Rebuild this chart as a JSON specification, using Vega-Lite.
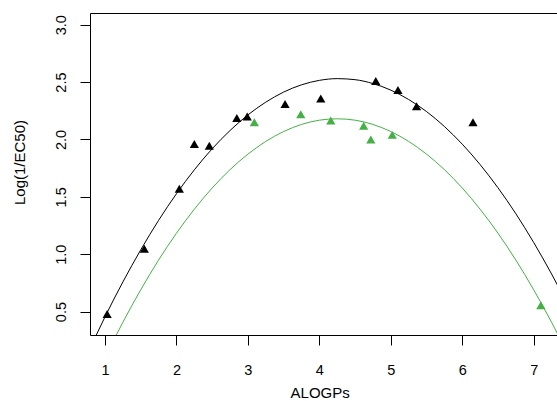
{
  "$schema": "https://vega.github.io/schema/vega-lite/v6.json",
  "width": 467,
  "height": 322,
  "autosize": {"type": "none"},
  "padding": {"left": 90, "top": 13, "right": 0, "bottom": 66},
  "config": {
    "view": {"stroke": null},
    "font": "Liberation Sans",
    "axis": {
      "grid": false,
      "domainColor": "#000000",
      "tickColor": "#000000",
      "labelColor": "#000000",
      "titleColor": "#000000",
      "labelFontSize": 14.5,
      "titleFontSize": 15,
      "titleFontWeight": "normal",
      "labelFlush": false,
      "labelOverlap": false,
      "tickSize": 10,
      "domainWidth": 1,
      "tickWidth": 1
    }
  },
  "datasets": {
    "curves": [
      {"x": 0.75, "y": 0.125, "s": "black"},
      {"x": 1.0, "y": 0.454, "s": "black"},
      {"x": 1.25, "y": 0.758, "s": "black"},
      {"x": 1.5, "y": 1.038, "s": "black"},
      {"x": 1.75, "y": 1.295, "s": "black"},
      {"x": 2.0, "y": 1.527, "s": "black"},
      {"x": 2.25, "y": 1.735, "s": "black"},
      {"x": 2.5, "y": 1.919, "s": "black"},
      {"x": 2.75, "y": 2.078, "s": "black"},
      {"x": 3.0, "y": 2.214, "s": "black"},
      {"x": 3.25, "y": 2.325, "s": "black"},
      {"x": 3.5, "y": 2.413, "s": "black"},
      {"x": 3.75, "y": 2.476, "s": "black"},
      {"x": 4.0, "y": 2.515, "s": "black"},
      {"x": 4.25, "y": 2.53, "s": "black"},
      {"x": 4.5, "y": 2.521, "s": "black"},
      {"x": 4.75, "y": 2.487, "s": "black"},
      {"x": 5.0, "y": 2.43, "s": "black"},
      {"x": 5.25, "y": 2.348, "s": "black"},
      {"x": 5.5, "y": 2.243, "s": "black"},
      {"x": 5.75, "y": 2.113, "s": "black"},
      {"x": 6.0, "y": 1.959, "s": "black"},
      {"x": 6.25, "y": 1.781, "s": "black"},
      {"x": 6.5, "y": 1.579, "s": "black"},
      {"x": 6.75, "y": 1.353, "s": "black"},
      {"x": 7.0, "y": 1.102, "s": "black"},
      {"x": 7.25, "y": 0.828, "s": "black"},
      {"x": 7.5, "y": 0.529, "s": "black"},
      {"x": 1.0, "y": 0.099, "s": "green"},
      {"x": 1.25, "y": 0.407, "s": "green"},
      {"x": 1.5, "y": 0.69, "s": "green"},
      {"x": 1.75, "y": 0.949, "s": "green"},
      {"x": 2.0, "y": 1.183, "s": "green"},
      {"x": 2.25, "y": 1.392, "s": "green"},
      {"x": 2.5, "y": 1.577, "s": "green"},
      {"x": 2.75, "y": 1.737, "s": "green"},
      {"x": 3.0, "y": 1.872, "s": "green"},
      {"x": 3.25, "y": 1.983, "s": "green"},
      {"x": 3.5, "y": 2.069, "s": "green"},
      {"x": 3.75, "y": 2.131, "s": "green"},
      {"x": 4.0, "y": 2.168, "s": "green"},
      {"x": 4.25, "y": 2.18, "s": "green"},
      {"x": 4.5, "y": 2.168, "s": "green"},
      {"x": 4.75, "y": 2.131, "s": "green"},
      {"x": 5.0, "y": 2.069, "s": "green"},
      {"x": 5.25, "y": 1.983, "s": "green"},
      {"x": 5.5, "y": 1.872, "s": "green"},
      {"x": 5.75, "y": 1.737, "s": "green"},
      {"x": 6.0, "y": 1.577, "s": "green"},
      {"x": 6.25, "y": 1.392, "s": "green"},
      {"x": 6.5, "y": 1.183, "s": "green"},
      {"x": 6.75, "y": 0.949, "s": "green"},
      {"x": 7.0, "y": 0.69, "s": "green"},
      {"x": 7.25, "y": 0.407, "s": "green"},
      {"x": 7.5, "y": 0.099, "s": "green"}
    ],
    "points": [
      {"x": 1.03, "y": 0.48, "s": "black"},
      {"x": 1.55, "y": 1.047, "s": "black"},
      {"x": 2.04, "y": 1.57, "s": "black"},
      {"x": 2.25, "y": 1.96, "s": "black"},
      {"x": 2.46, "y": 1.945, "s": "black"},
      {"x": 2.845, "y": 2.187, "s": "black"},
      {"x": 2.99, "y": 2.2, "s": "black"},
      {"x": 3.52, "y": 2.31, "s": "black"},
      {"x": 4.02, "y": 2.357, "s": "black"},
      {"x": 4.79, "y": 2.51, "s": "black"},
      {"x": 5.1, "y": 2.43, "s": "black"},
      {"x": 5.36, "y": 2.29, "s": "black"},
      {"x": 6.15, "y": 2.15, "s": "black"},
      {"x": 3.09, "y": 2.15, "s": "green"},
      {"x": 3.74, "y": 2.22, "s": "green"},
      {"x": 4.16, "y": 2.166, "s": "green"},
      {"x": 4.62, "y": 2.12, "s": "green"},
      {"x": 4.72, "y": 2.0, "s": "green"},
      {"x": 5.02, "y": 2.04, "s": "green"},
      {"x": 7.1, "y": 0.556, "s": "green"}
    ]
  },
  "layer": [
    {
      "data": {"name": "curves"},
      "mark": {"type": "line", "clip": true, "strokeWidth": 1, "interpolate": "monotone"},
      "encoding": {
        "x": {
          "field": "x", "type": "quantitative",
          "scale": {"domain": [0.79, 7.326], "nice": false, "zero": false},
          "axis": {
            "orient": "bottom",
            "values": [1, 2, 3, 4, 5, 6, 7],
            "format": "d",
            "labelBaseline": "alphabetic",
            "labelPadding": 29,
            "title": "ALOGPs",
            "titleX": 229.7,
            "titleY": 62,
            "titleAlign": "center",
            "titleBaseline": "alphabetic",
            "titleAnchor": null
          }
        },
        "y": {
          "field": "y", "type": "quantitative",
          "scale": {"domain": [0.296, 3.102], "nice": false, "zero": false},
          "axis": {
            "values": [0.5, 1, 1.5, 2, 2.5, 3],
            "format": ".1f",
            "labelAngle": 270,
            "labelAlign": "center",
            "labelBaseline": "alphabetic",
            "labelPadding": 15,
            "title": "Log(1/EC50)",
            "titleAngle": 270,
            "titleX": -65.5,
            "titleY": 149,
            "titleAlign": "center",
            "titleBaseline": "alphabetic"
          }
        },
        "color": {
          "field": "s", "type": "nominal",
          "scale": {"domain": ["black", "green"], "range": ["#000000", "#45B045"]},
          "legend": null
        },
        "detail": {"field": "s"}
      }
    },
    {
      "data": {"name": "points"},
      "mark": {"type": "point", "shape": "triangle-up", "filled": true, "size": 85, "opacity": 1},
      "encoding": {
        "x": {
          "field": "x", "type": "quantitative",
          "axis": {"orient": "top", "labels": false, "ticks": false, "domain": true, "title": null, "grid": false}
        },
        "y": {"field": "y", "type": "quantitative"},
        "color": {"field": "s", "type": "nominal", "legend": null}
      }
    }
  ],
  "resolve": {"axis": {"x": "independent"}}
}
